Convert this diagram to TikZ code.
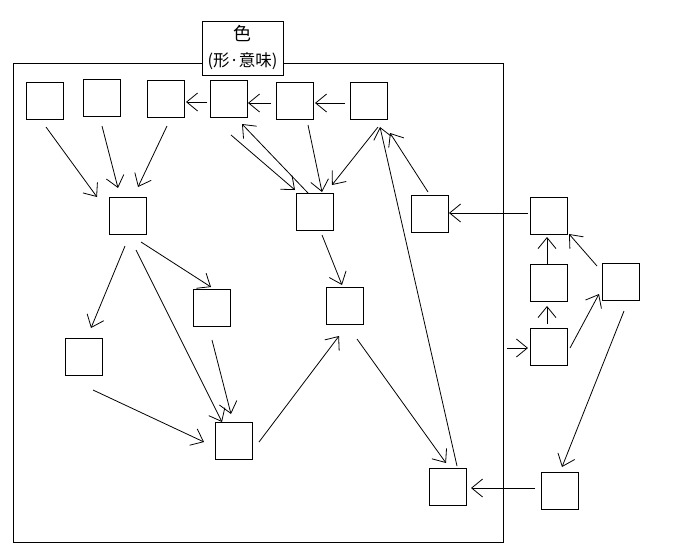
\documentclass[tikz,border=0pt]{standalone}
\usepackage{fontspec}
\newfontfamily\cjk{Noto Sans CJK JP}
\usetikzlibrary{arrows.meta}
\begin{document}
\begin{tikzpicture}[x=1pt,y=-1pt,
  box/.style={draw, minimum size=37pt, inner sep=0pt, line width=0.9pt},
  arr/.style={-{Straight Barb[length=11pt,width=18pt]}, line width=0.8pt},
  frame/.style={draw, line width=0.9pt}]
\useasboundingbox (0,0) rectangle (700,550);
\fill[white] (0,0) rectangle (700,550);
% frame
\draw[frame] (13,63) rectangle (503,542);
\node[draw, fill=white, line width=0.9pt, minimum width=81pt, minimum height=54pt, inner sep=0pt] (lbl) at (242.5,48) {};
\node[font=\cjk\fontsize{18pt}{20pt}\selectfont, inner sep=0pt] (t1) at (242.5,33.5) {色};
\node[font=\cjk\fontsize{16.5pt}{18pt}\selectfont, inner sep=0pt] (t2) at (242.5,61) {(形·意味)};
% boxes
\node[box] (b1) at (44.5,100.5) {};
\node[box] (b2) at (102,97.5) {};
\node[box] (b3) at (165.5,98.5) {};
\node[box] (b4) at (228.5,98.5) {};
\node[box] (b5) at (295,100.5) {};
\node[box] (b6) at (369,100.5) {};
\node[box] (c1) at (127.5,215.5) {};
\node[box] (c2) at (315,211.5) {};
\node[box] (j) at (84,357) {};
\node[box] (k) at (212,308) {};
\node[box] (l) at (234,440.5) {};
\node[box] (f) at (344.5,306) {};
\node[box] (d) at (429.5,213.5) {};
\node[box] (g) at (448,486.5) {};
\node[box] (h) at (560,490.5) {};
\node[box] (e1) at (549,215.5) {};
\node[box] (e2) at (549,282.5) {};
\node[box] (e3) at (549,346.5) {};
\node[box] (i) at (620.5,281.5) {};
\coordinate (in3) at (507,348);
% arrows
\draw[arr] ([shift={(1.5,26.5)}]b1.center) -- ([shift={(-30.5,-18.5)}]c1.center);
\draw[arr] ([shift={(0,28.5)}]b2.center) -- ([shift={(-9.5,-27.5)}]c1.center);
\draw[arr] ([shift={(1.5,27.5)}]b3.center) -- ([shift={(10.5,-28.5)}]c1.center);
\draw[arr] ([shift={(-21.5,3.5)}]b4.center) -- ([shift={(20.5,3.5)}]b3.center);
\draw[arr] ([shift={(-24,2.5)}]b5.center) -- ([shift={(19.5,4.5)}]b4.center);
\draw[arr] ([shift={(-24,2.5)}]b6.center) -- ([shift={(20,2.5)}]b5.center);
\draw[arr] ([shift={(2.5,36.5)}]b4.center) -- ([shift={(-20,-21.5)}]c2.center);
\draw[arr] ([shift={(-7,-18.5)}]c2.center) -- ([shift={(13.5,25.5)}]b4.center);
\draw[arr] ([shift={(13,24.5)}]b5.center) -- ([shift={(7,-19.5)}]c2.center);
\draw[arr] ([shift={(9,26.5)}]b6.center) -- ([shift={(17,-26.5)}]c2.center);
\draw[arr] ([shift={(9,-20.5)}]g.center) -- ([shift={(11,26.5)}]b6.center);
\draw[arr] ([shift={(-1.5,-21.5)}]d.center) -- ([shift={(21,32.5)}]b6.center);
\draw[arr] ([shift={(-21,-2.5)}]e1.center) -- ([shift={(19.5,-0.5)}]d.center);
\draw[arr] ([shift={(-2,-18.5)}]e2.center) -- ([shift={(-2,21.5)}]e1.center);
\draw[arr] ([shift={(-2,-22.5)}]e3.center) -- ([shift={(-2,23.5)}]e2.center);
\draw[arr] (in3) -- ([shift={(-21,1.5)}]e3.center);
\draw[arr] ([shift={(21,1.5)}]e3.center) -- ([shift={(-21.5,12.5)}]i.center);
\draw[arr] ([shift={(-23.5,-15.5)}]i.center) -- ([shift={(20,18.5)}]e1.center);
\draw[arr] ([shift={(3.5,29.5)}]i.center) -- ([shift={(2,-23.5)}]h.center);
\draw[arr] ([shift={(-25,-2.5)}]h.center) -- ([shift={(23,1.5)}]g.center);
\draw[arr] ([shift={(12.5,33)}]f.center) -- ([shift={(-2,-23.5)}]g.center);
\draw[arr] ([shift={(-2.5,30.5)}]c1.center) -- ([shift={(7,-29)}]j.center);
\draw[arr] ([shift={(13.5,26.5)}]c1.center) -- ([shift={(-1,-21)}]k.center);
\draw[arr] ([shift={(8.5,34.5)}]c1.center) -- ([shift={(-12,-18.5)}]l.center);
\draw[arr] ([shift={(0,32)}]k.center) -- ([shift={(-3,-26.5)}]l.center);
\draw[arr] ([shift={(9,33)}]j.center) -- ([shift={(-30,1.5)}]l.center);
\draw[arr] ([shift={(25,1.5)}]l.center) -- ([shift={(-5.5,30)}]f.center);
\draw[arr] ([shift={(7,23.5)}]c2.center) -- ([shift={(-2.5,-21)}]f.center);
\end{tikzpicture}
\end{document}
